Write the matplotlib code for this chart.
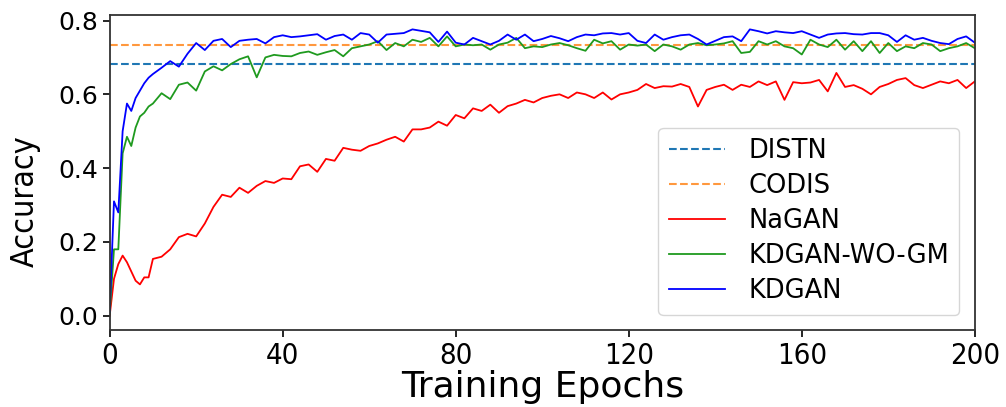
import matplotlib
matplotlib.use("Agg")
from matplotlib import pyplot as plt

# epochs sampled (dense at the start where the curves rise fast)
epochs = [0, 1, 2, 3, 4, 5, 6, 7, 8, 9, 10] + list(range(12, 201, 2))

distn = 0.681
codis = 0.733

nagan = [0.0, 0.10, 0.14, 0.163, 0.145, 0.12, 0.095, 0.085, 0.104, 0.104, 0.154,
         0.16, 0.18, 0.213, 0.222, 0.215, 0.25, 0.295, 0.328, 0.322, 0.347,
         0.333, 0.352, 0.365, 0.36, 0.372, 0.37, 0.405, 0.41, 0.39, 0.425,
         0.42, 0.455, 0.45, 0.447, 0.46, 0.467, 0.477, 0.485, 0.472, 0.505,
         0.505, 0.51, 0.526, 0.515, 0.544, 0.535, 0.562, 0.555, 0.572, 0.55,
         0.568, 0.575, 0.585, 0.578, 0.59, 0.596, 0.6, 0.59, 0.605, 0.6,
         0.59, 0.605, 0.586, 0.6, 0.605, 0.612, 0.628, 0.617, 0.622, 0.621,
         0.628, 0.62, 0.567, 0.612, 0.62, 0.626, 0.612, 0.626, 0.62, 0.635,
         0.625, 0.635, 0.585, 0.633, 0.63, 0.632, 0.639, 0.608, 0.658, 0.62,
         0.625, 0.615, 0.6, 0.62, 0.628, 0.639, 0.644, 0.625, 0.617, 0.626,
         0.635, 0.63, 0.639, 0.617, 0.635]

kdgan_wo_gm = [0.005, 0.18, 0.18, 0.44, 0.485, 0.46, 0.51, 0.54, 0.55, 0.567, 0.575,
               0.603, 0.587, 0.626, 0.632, 0.61, 0.662, 0.676, 0.665, 0.682, 0.695,
               0.703, 0.646, 0.70, 0.707, 0.704, 0.703, 0.712, 0.716, 0.707, 0.714,
               0.72, 0.703, 0.725, 0.73, 0.735, 0.744, 0.72, 0.739, 0.73, 0.748,
               0.742, 0.753, 0.73, 0.757, 0.73, 0.735, 0.733, 0.735, 0.721, 0.735,
               0.74, 0.753, 0.725, 0.73, 0.728, 0.735, 0.739, 0.733, 0.725, 0.718,
               0.748, 0.738, 0.744, 0.721, 0.735, 0.732, 0.735, 0.717, 0.735, 0.73,
               0.721, 0.735, 0.739, 0.733, 0.735, 0.738, 0.744, 0.712, 0.715, 0.744,
               0.735, 0.744, 0.73, 0.725, 0.708, 0.748, 0.735, 0.728, 0.748, 0.721,
               0.744, 0.717, 0.744, 0.712, 0.739, 0.717, 0.73, 0.725, 0.739, 0.735,
               0.717, 0.725, 0.73, 0.739, 0.725]

kdgan = [0.01, 0.31, 0.28, 0.50, 0.575, 0.555, 0.59, 0.61, 0.63, 0.645, 0.655,
         0.672, 0.69, 0.675, 0.71, 0.739, 0.72, 0.745, 0.75, 0.728, 0.745,
         0.748, 0.75, 0.738, 0.755, 0.76, 0.755, 0.757, 0.76, 0.763, 0.748,
         0.758, 0.762, 0.748, 0.766, 0.762, 0.74, 0.762, 0.764, 0.766, 0.776,
         0.772, 0.768, 0.742, 0.77, 0.74, 0.735, 0.753, 0.744, 0.735, 0.745,
         0.762, 0.748, 0.762, 0.744, 0.75, 0.758, 0.752, 0.744, 0.755, 0.762,
         0.76, 0.765, 0.766, 0.762, 0.766, 0.745, 0.739, 0.762, 0.748, 0.755,
         0.76, 0.762, 0.75, 0.735, 0.745, 0.755, 0.757, 0.744, 0.776, 0.771,
         0.765, 0.771, 0.768, 0.766, 0.771, 0.762, 0.753, 0.762, 0.765, 0.766,
         0.763, 0.762, 0.766, 0.766, 0.76, 0.742, 0.76, 0.748, 0.753, 0.745,
         0.739, 0.736, 0.75, 0.757, 0.74]

fig = plt.figure(figsize=(10.06, 4.07), dpi=100)
ax = fig.add_axes([0.109, 0.189, 0.86, 0.774])

ax.axhline(distn, color='#1f77b4', ls='--', lw=1.5, label='DISTN')
ax.axhline(codis, color='#ff7f0e', ls='--', lw=1.5, alpha=0.8, label='CODIS')
ax.plot(epochs, nagan, 'r', lw=1.3, label='NaGAN')
ax.plot(epochs, kdgan_wo_gm, color='#1f9a1f', lw=1.3, label='KDGAN-WO-GM')
ax.plot(epochs, kdgan, 'b', lw=1.3, label='KDGAN')

ax.set_xlim(0, 200)
ax.set_xticks([0, 40, 80, 120, 160, 200])
ax.set_yticks([0.0, 0.2, 0.4, 0.6, 0.8])
ax.tick_params(axis='y', labelsize=18, length=5, width=1.2)
ax.tick_params(axis='x', length=5, width=1.2)
for t in ax.get_xticklabels():
    t.set_fontstretch('condensed')
    t.set_fontsize(21)
ax.set_xlabel('Training Epochs', fontsize=26, labelpad=0)
ax.set_ylabel('Accuracy', fontsize=23, fontstretch='condensed')
ax.yaxis.set_label_coords(-0.08, 0.41)
for s in ax.spines.values():
    s.set_linewidth(1.3)
    s.set_color('#333333')

ax.legend(loc='lower right', fontsize=18.5, handlelength=2.2, handletextpad=0.9,
          labelspacing=0.35, borderaxespad=0.6)

plt.savefig('out.png', dpi=100)
